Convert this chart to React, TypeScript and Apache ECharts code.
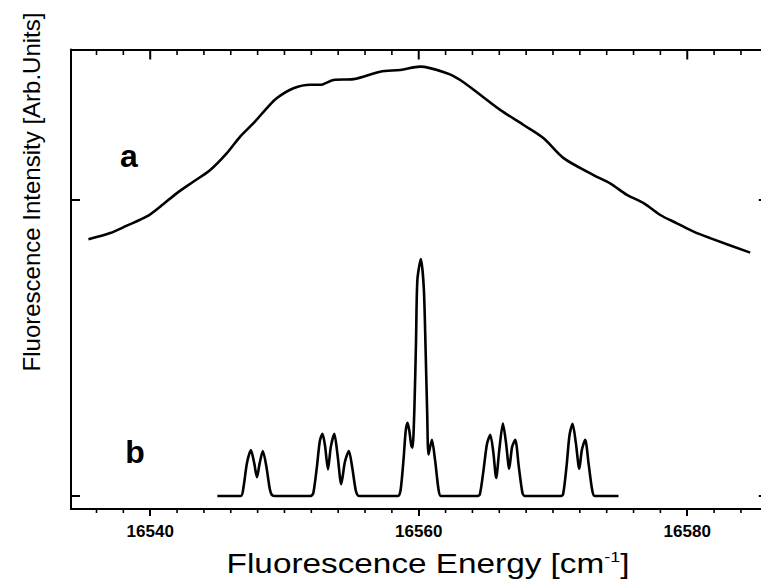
import React, { useEffect, useRef } from "react";
import * as echarts from "echarts";

// ---- data ----
const X_MIN = 16534.1;
const X_MAX = 16586;
const Y_MIN = -0.044;
const Y_MAX = 1.508;

const majorTicks = [16540, 16560, 16580];
const minorTicks = [
  16536, 16538, 16542, 16544, 16546, 16548, 16550, 16552, 16554, 16556, 16558,
  16562, 16564, 16566, 16568, 16570, 16572, 16574, 16576, 16578, 16582, 16584,
];
const yTicks = [0, 1];

// curve a (broad fluorescence band)
const energyA = [
  16535.4, 16537.02, 16538.26, 16539.75, 16540.74, 16541.99, 16543.23, 16544.47,
  16545.71, 16546.7, 16547.69, 16548.69, 16549.44, 16550.67, 16551.92, 16552.66,
  16553.65, 16555.14, 16557.13, 16558.62, 16560.11, 16562.1, 16563.09, 16564.58,
  16566.07, 16567.81, 16569.3, 16570.79, 16573.02, 16574.26, 16575.51, 16576.75,
  16577.99, 16579.23, 16580.47, 16581.71, 16584.69,
];
const intensityA = [
  0.867, 0.888, 0.913, 0.944, 0.977, 1.023, 1.062, 1.101,
  1.158, 1.214, 1.259, 1.31, 1.344, 1.377, 1.389, 1.389,
  1.405, 1.408, 1.433, 1.439, 1.45, 1.428, 1.405, 1.355,
  1.304, 1.253, 1.208, 1.141, 1.084, 1.056, 1.017, 0.989,
  0.949, 0.921, 0.893, 0.871, 0.822,
];

// curve b (resolved line spectrum)
const energyB = [
  16545.0, 16546.75, 16546.95, 16547.2, 16547.5, 16547.75, 16547.95, 16548.15, 16548.39, 16548.65, 16548.9, 16549.05, 16549.25,
  16551.95, 16552.15, 16552.42, 16552.63, 16552.83, 16553.02, 16553.24, 16553.45, 16553.71, 16553.95, 16554.23, 16554.5, 16554.8, 16555.05, 16555.33, 16555.55,
  16558.45, 16558.65, 16558.88, 16559.03, 16559.17, 16559.3, 16559.45, 16559.54, 16559.68, 16559.8, 16559.9, 16560.16, 16560.38, 16560.52, 16560.63, 16560.73, 16560.98, 16561.22, 16561.48, 16561.65,
  16564.35, 16564.55, 16564.82, 16565.08, 16565.33, 16565.55, 16565.77, 16566.0, 16566.27, 16566.5, 16566.74, 16566.95, 16567.19, 16567.45, 16567.72, 16567.9,
  16570.55, 16570.75, 16571.02, 16571.23, 16571.46, 16571.7, 16571.96, 16572.15, 16572.4, 16572.65, 16572.92, 16573.1, 16574.88,
];
const intensityB = [
  0, 0, 0.03, 0.11, 0.155, 0.11, 0.063, 0.11, 0.152, 0.1, 0.025, 0.004, 0,
  0, 0.01, 0.1, 0.185, 0.21, 0.17, 0.09, 0.165, 0.21, 0.14, 0.04, 0.115, 0.152, 0.095, 0.015, 0,
  0, 0.02, 0.13, 0.22, 0.247, 0.22, 0.17, 0.163, 0.3, 0.527, 0.73, 0.8, 0.7, 0.48, 0.28, 0.14, 0.19, 0.12, 0.02, 0,
  0, 0.005, 0.085, 0.175, 0.207, 0.15, 0.061, 0.155, 0.245, 0.18, 0.092, 0.165, 0.19, 0.1, 0.012, 0,
  0, 0.005, 0.105, 0.205, 0.244, 0.18, 0.092, 0.155, 0.19, 0.11, 0.02, 0, 0,
];

const labelA = "a";
const labelB = "b";
const xTitle = "Fluorescence Energy [cm";
const xTitleSup = "-1";
const yTitle = "Fluorescence Intensity [Arb.Units]";

const FONT = "Liberation Sans, Arial, Helvetica, sans-serif";

const GRID_LEFT = 71;
const GRID_TOP = 49.5;
const GRID_W = 696.8;
const GRID_H = 459.5;

export default function App() {
  const ref = useRef<HTMLDivElement>(null);

  useEffect(() => {
    if (!ref.current) return;
    const chart = echarts.init(ref.current, undefined, { renderer: "svg" });

    const dataA = energyA.map((x, i) => [x, intensityA[i]]);
    const dataB = energyB.map((x, i) => [x, intensityB[i]]);

    // frame tick segments expressed in data units (pixel length / axis scale)
    const unitPerPx = (Y_MAX - Y_MIN) / GRID_H;
    const majorTickSeg: any[] = [];
    majorTicks.forEach((v) => {
      majorTickSeg.push([v, Y_MAX], [v, Y_MAX - 10 * unitPerPx], [v, "-"]);
    });
    const minorTickSeg: any[] = [];
    minorTicks.forEach((v) => {
      minorTickSeg.push([v, Y_MAX], [v, Y_MAX - 5.5 * unitPerPx], [v, "-"]);
      minorTickSeg.push([v, Y_MIN], [v, Y_MIN - 4 * unitPerPx], [v, "-"]);
    });

    const yAx = (position: string) => ({
      type: "value",
      min: Y_MIN,
      max: Y_MAX,
      position,
      splitLine: { show: false },
      axisLine: { show: true, onZero: false, lineStyle: { color: "#000", width: 2 } },
      axisTick: {
        show: true,
        inside: true,
        length: 9,
        customValues: yTicks,
        lineStyle: { color: "#000", width: 2 },
      },
      axisLabel: { show: false },
    });

    const textGraphics: any[] = [
      {
        type: "text",
        x: 129,
        y: 155.5,
        style: {
          text: labelA,
          fill: "#000",
          font: `bold 32px ${FONT}`,
          align: "center",
          verticalAlign: "middle",
        },
      },
      {
        type: "text",
        x: 135,
        y: 451.8,
        style: {
          text: labelB,
          fill: "#000",
          font: `bold 32px ${FONT}`,
          align: "center",
          verticalAlign: "middle",
        },
      },
      {
        type: "text",
        x: 31,
        y: 192,
        rotation: Math.PI / 2,
        style: {
          text: yTitle,
          fill: "#000",
          font: `24px ${FONT}`,
          align: "center",
          verticalAlign: "middle",
        },
      },
      {
        type: "text",
        x: 428,
        y: 563.5,
        scaleX: 1.19,
        style: {
          text: `{t|${xTitle}}{s|${xTitleSup}}{t|]}`,
          fill: "#000",
          align: "center",
          verticalAlign: "middle",
          rich: {
            t: { fontSize: 28, fontFamily: FONT, fill: "#000" },
            s: { fontSize: 15, fontFamily: FONT, fill: "#000", verticalAlign: "top" },
          },
        },
      },
    ];

    const option: any = {
      animation: false,
      backgroundColor: "#ffffff",
      grid: { left: GRID_LEFT, top: GRID_TOP, width: GRID_W, height: GRID_H, containLabel: false },
      xAxis: [
        {
          type: "value",
          min: X_MIN,
          max: X_MAX,
          position: "bottom",
          splitLine: { show: false },
          axisLine: { show: true, onZero: false, lineStyle: { color: "#000", width: 2 } },
          axisTick: {
            show: true,
            inside: false,
            length: 7,
            customValues: majorTicks,
            lineStyle: { color: "#000", width: 2 },
          },
          axisLabel: {
            show: true,
            customValues: majorTicks,
            margin: 14,
            color: "#000",
            fontFamily: FONT,
            fontWeight: "bold",
            fontSize: 17,
            formatter: (v: number) => String(Math.round(v)),
          },
        },
        {
          type: "value",
          min: X_MIN,
          max: X_MAX,
          position: "top",
          splitLine: { show: false },
          axisLine: { show: true, onZero: false, lineStyle: { color: "#000", width: 2 } },
          axisTick: { show: false },
          axisLabel: { show: false },
        },
      ],
      yAxis: [yAx("left"), yAx("right")],
      series: [
        {
          name: "a",
          type: "line",
          xAxisIndex: 0,
          yAxisIndex: 0,
          data: dataA,
          showSymbol: false,
          smooth: 0.3,
          lineStyle: { color: "#000", width: 2.6 },
        },
        {
          name: "b",
          type: "line",
          xAxisIndex: 0,
          yAxisIndex: 0,
          data: dataB,
          showSymbol: false,
          smooth: 0.25,
          lineStyle: { color: "#000", width: 2.6 },
        },
        {
          name: "majorTicks",
          type: "line",
          xAxisIndex: 0,
          yAxisIndex: 0,
          data: majorTickSeg,
          showSymbol: false,
          connectNulls: false,
          clip: false,
          silent: true,
          lineStyle: { color: "#000", width: 2 },
        },
        {
          name: "minorTicks",
          type: "line",
          xAxisIndex: 0,
          yAxisIndex: 0,
          data: minorTickSeg,
          showSymbol: false,
          connectNulls: false,
          clip: false,
          silent: true,
          lineStyle: { color: "#000", width: 1.6 },
        },
      ],
      graphic: textGraphics,
    };

    chart.setOption(option);
    return () => chart.dispose();
  }, []);

  return (
    <div
      style={{
        position: "fixed",
        left: 0,
        top: 0,
        width: 761,
        height: 585,
        overflow: "hidden",
        background: "#fff",
      }}
    >
      <div ref={ref} style={{ width: 780, height: 585 }} />
    </div>
  );
}
